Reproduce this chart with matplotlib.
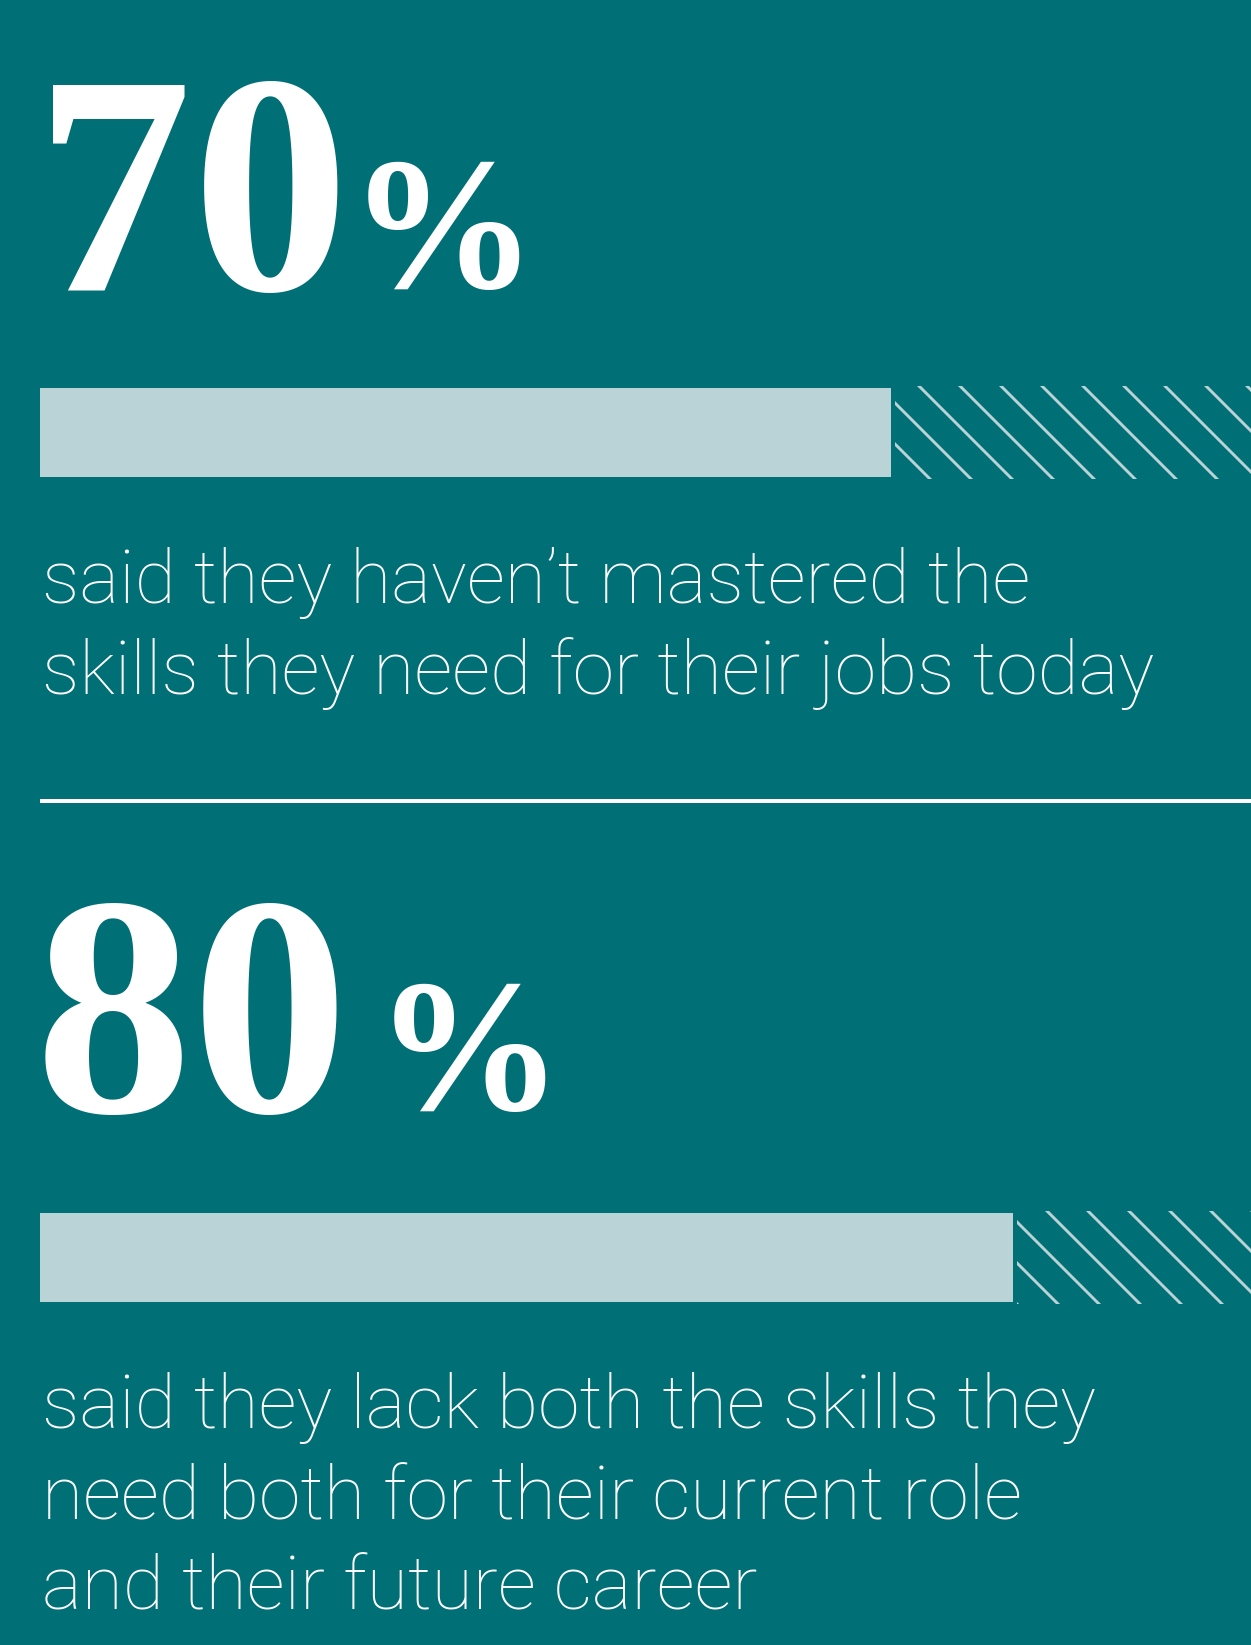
import matplotlib.pyplot as plt

# survey results
shares = [70, 80]
share_labels = ["70", "80"]
captions = [
    ["said they haven\u2019t mastered the",
     "skills they need for their jobs today"],
    ["said they lack both the skills they",
     "need both for their current role",
     "and their future career"],
]

W, H, DPI = 1251, 1645, 246
TEAL = "#006f76"
PALE = "#b9d3d7"

plt.rcParams["hatch.color"] = PALE
plt.rcParams["hatch.linewidth"] = 0.85

fig = plt.figure(figsize=(W / DPI, H / DPI), dpi=DPI, facecolor=TEAL)


def fx(x):
    return x / W


def fy(y):
    return 1 - y / H


# pixel layout of each block, measured from the top of the page
layout = [
    dict(num_base=290, pct_x=349, bar_top=386, bar_bot=479, cap_base=603),
    dict(num_base=1112, pct_x=375, bar_top=1211, bar_bot=1304, cap_base=1428),
]
LEFT = 40
SCALE_W = 1216
LINE_STEP = 91
GAP = 0.35

for share, label, lines, lay in zip(shares, share_labels, captions, layout):
    fig.text(fx(LEFT - 5), fy(lay["num_base"]), label, color="white",
             fontsize=92, family="Liberation Serif", weight="bold",
             va="baseline", ha="left")
    fig.text(fx(lay["pct_x"]), fy(lay["num_base"] - 2), "%", color="white",
             fontsize=55, family="Liberation Serif", weight="bold",
             va="baseline", ha="left")

    h = lay["bar_bot"] - lay["bar_top"]
    ax = fig.add_axes([fx(LEFT), fy(lay["bar_bot"]), SCALE_W / W, h / H])
    ax.set_xlim(0, 100)
    ax.set_ylim(0, 1)
    ax.axis("off")
    ax.barh(0.5, share, height=0.95, color=PALE, linewidth=0)
    ax.barh(0.5, 100 - share - GAP, left=share + GAP, height=1.0,
            facecolor="none", edgecolor=PALE, linewidth=0, hatch="\\\\")

    for i, line in enumerate(lines):
        fig.text(fx(LEFT + 2), fy(lay["cap_base"] + i * LINE_STEP), line,
                 color="white", fontsize=22, family="Roboto", weight="light",
                 va="baseline", ha="left")

# divider between the two blocks
fig.add_artist(plt.Line2D([fx(LEFT), 1], [fy(801), fy(801)],
                          color="white", linewidth=4 * 72 / DPI,
                          solid_capstyle="butt"))

fig.savefig("out.png", dpi=DPI, facecolor=TEAL)
